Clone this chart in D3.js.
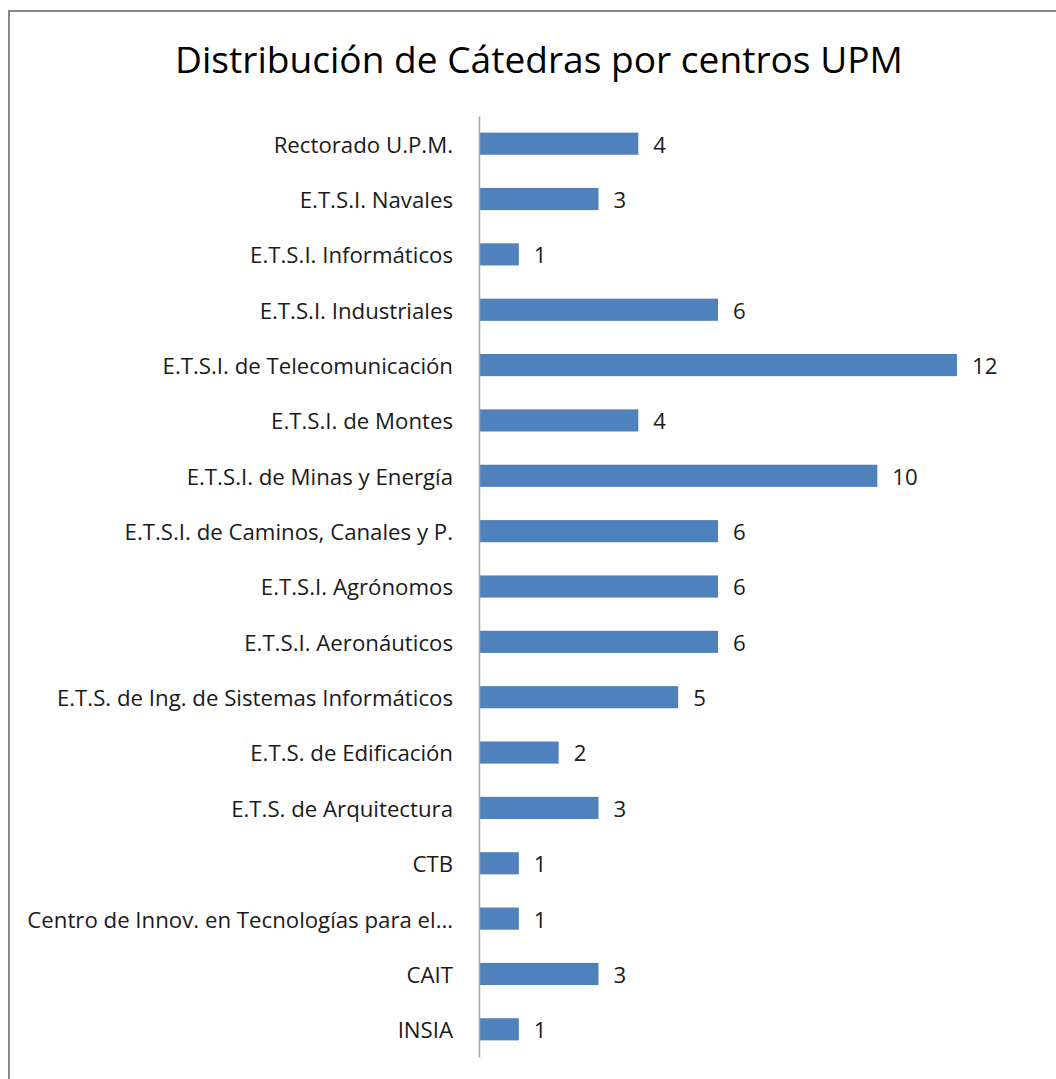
<!DOCTYPE html>
<html><head><meta charset="utf-8">
<script src="https://cdn.jsdelivr.net/npm/d3@7"></script>
<style>body{margin:0;background:#fff}</style>
</head><body>
<svg id="c" width="1056" height="1079"></svg>
<script>
const categories = ["Rectorado U.P.M.","E.T.S.I. Navales","E.T.S.I. Informáticos","E.T.S.I. Industriales","E.T.S.I. de Telecomunicación","E.T.S.I. de Montes","E.T.S.I. de Minas y Energía","E.T.S.I. de Caminos, Canales y P.","E.T.S.I. Agrónomos","E.T.S.I. Aeronáuticos","E.T.S. de Ing. de Sistemas Informáticos","E.T.S. de Edificación","E.T.S. de Arquitectura","CTB","Centro de Innov. en Tecnologías para el…","CAIT","INSIA"];
const values = [4,3,1,6,12,4,10,6,6,6,5,2,3,1,1,3,1];
const title = "Distribución de Cátedras por centros UPM";

const svg = d3.select("#c");
const font = "'Open Sans', sans-serif";
svg.append("rect").attr("x",9).attr("y",11).attr("width",1060).attr("height",1080)
  .attr("fill","#fff").attr("stroke","#878787").attr("stroke-width",2);

const t = svg.append("text").attr("x",539).attr("y",73).attr("text-anchor","middle")
  .attr("font-family",font).attr("font-size",34).attr("fill","#000").text(title);
const tw = t.node().getComputedTextLength();
t.attr("font-size",34*728/tw);

const x = d3.scaleLinear().domain([0,12]).range([479,957]);
const y = d3.scaleBand().domain(categories).range([116,1057]).paddingInner(0.6).paddingOuter(0.3);

svg.append("g").selectAll("rect").data(categories).join("rect")
  .attr("x",x(0)).attr("y",d=>y(d)).attr("height",y.bandwidth())
  .attr("width",(d,i)=>x(values[i])-x(0)).attr("fill","#4f81bd");

const yAxis = svg.append("g").attr("transform",`translate(${x(0)},0)`)
  .call(d3.axisLeft(y).tickSize(0).tickPadding(26));
yAxis.select(".domain").attr("stroke","#a6a6a6").attr("stroke-width",1.5);
const labs = yAxis.selectAll("text").attr("font-family",font).attr("font-size",19).attr("fill","#1a1a1a").attr("dy","0.4em");
const longest = d3.max(labs.nodes(), n=>n.getComputedTextLength());
const fs = 19*426/longest;
labs.attr("font-size",fs);

svg.append("g").selectAll("text").data(categories).join("text")
  .attr("x",(d,i)=>x(values[i])+15).attr("y",d=>y(d)+y.bandwidth()/2)
  .attr("dy","0.4em").attr("font-family",font).attr("font-size",fs).attr("fill","#1a1a1a")
  .text((d,i)=>values[i]);
</script>
</body></html>
